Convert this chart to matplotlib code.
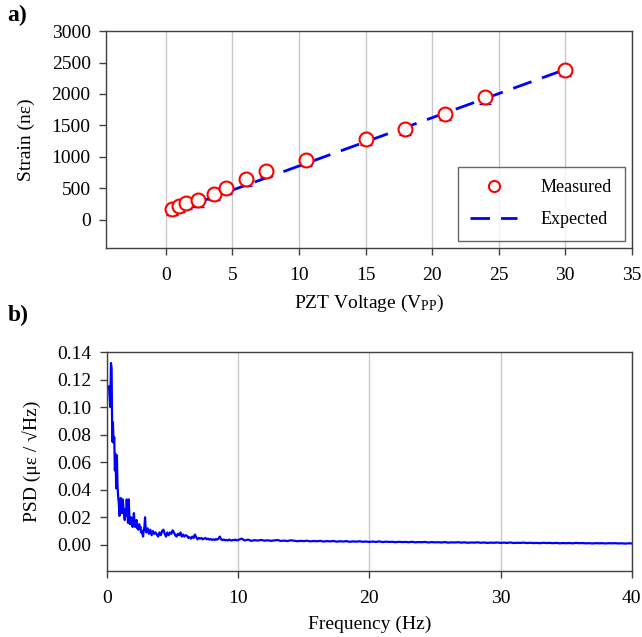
import numpy as np
import matplotlib
matplotlib.use('Agg')
import matplotlib.pyplot as plt
from matplotlib.ticker import FormatStrFormatter

plt.rcParams['font.family'] = ['Liberation Serif', 'DejaVu Serif']
plt.rcParams['mathtext.fontset'] = 'custom'
plt.rcParams['mathtext.rm'] = 'Liberation Serif'
plt.rcParams['mathtext.it'] = 'Liberation Serif:italic'

# --- panel a: strain vs PZT voltage ---
voltage = [0.5, 1.0, 1.5, 2.4, 3.6, 4.5, 6.0, 7.5, 10.5, 15.0, 18.0, 21.0, 24.0, 30.0]
strain_measured = [175, 215, 262, 305, 410, 500, 642, 776, 952, 1290, 1448, 1686, 1945, 2390]
strain_err_low = [100] * len(voltage)
expected_v = [0.2, 30.0]
expected_strain = [100, 2390]

# --- panel b: PSD ---
# 0.15 .. 3.00 Hz, step 0.05
psd_low = [0.115, 0.108, 0.100, 0.132, 0.128, 0.075, 0.089, 0.074, 0.078, 0.054,
           0.066, 0.041, 0.065, 0.043, 0.035, 0.030, 0.021, 0.028, 0.034, 0.026,
           0.023, 0.033, 0.027, 0.023, 0.018, 0.026, 0.021, 0.033, 0.024, 0.016,
           0.033, 0.022, 0.015, 0.019, 0.020, 0.016, 0.013, 0.018, 0.023, 0.016,
           0.013, 0.016, 0.018, 0.012, 0.014, 0.011, 0.015, 0.012, 0.013, 0.009,
           0.010, 0.008, 0.006, 0.011, 0.013, 0.020, 0.011, 0.009]
# 3.1 .. 10.0 Hz, step 0.1
psd_mid = [0.012, 0.008, 0.011, 0.007, 0.010, 0.008, 0.009, 0.0075, 0.006, 0.009,
           0.007, 0.010, 0.011, 0.008, 0.006, 0.009, 0.007, 0.009, 0.008, 0.0105,
           0.009, 0.007, 0.006, 0.008, 0.007, 0.009, 0.006, 0.0075, 0.006, 0.007,
           0.0065, 0.005, 0.0055, 0.0045, 0.006, 0.005, 0.0075, 0.0055, 0.004, 0.005,
           0.0045, 0.005, 0.004, 0.0045, 0.005, 0.004, 0.0045, 0.0038, 0.0042, 0.0036,
           0.004, 0.0035, 0.0042, 0.0038, 0.0045, 0.006, 0.004, 0.0035, 0.0038, 0.0033,
           0.0036, 0.0032, 0.0038, 0.0034, 0.0031, 0.0036, 0.0033, 0.0038, 0.0032, 0.0035]
# 10.25 .. 40.0 Hz, step 0.25
psd_high = [0.0045, 0.0032, 0.0038, 0.0029, 0.0034, 0.0031, 0.0036, 0.0030, 0.0033, 0.0029,
            0.0032, 0.0035, 0.0028, 0.0031, 0.0027, 0.0033, 0.0030, 0.0026, 0.0029, 0.0027,
            0.0030, 0.0025, 0.0028, 0.0026, 0.0029, 0.0024, 0.0027, 0.0025, 0.0028, 0.0023,
            0.0026, 0.0024, 0.0027, 0.0022, 0.0025, 0.0023, 0.0026, 0.0022, 0.0024, 0.0021,
            0.0024, 0.0021, 0.0025, 0.0020, 0.0023, 0.0021, 0.0022, 0.0019, 0.0022, 0.0020,
            0.0021, 0.0019, 0.0022, 0.0018, 0.0020, 0.0019, 0.0021, 0.0017, 0.0020, 0.0018,
            0.0019, 0.0017, 0.0020, 0.0016, 0.0018, 0.0017, 0.0019, 0.0016, 0.0018, 0.0015,
            0.0017, 0.0016, 0.0018, 0.0015, 0.0017, 0.0014, 0.0016, 0.0015, 0.0017, 0.0014,
            0.0016, 0.0014, 0.0017, 0.0013, 0.0015, 0.0014, 0.0016, 0.0013, 0.0015, 0.0013,
            0.0014, 0.0012, 0.0015, 0.0013, 0.0014, 0.0012, 0.0014, 0.0011, 0.0013, 0.0012,
            0.0013, 0.0011, 0.0014, 0.0012, 0.0013, 0.0011, 0.0012, 0.0010, 0.0012, 0.0011,
            0.0012, 0.0010, 0.0012, 0.0011, 0.0012, 0.0010, 0.0011, 0.0009, 0.0011, 0.0010]

freq = np.concatenate([0.15 + 0.05 * np.arange(len(psd_low)),
                       3.1 + 0.1 * np.arange(len(psd_mid)),
                       10.25 + 0.25 * np.arange(len(psd_high))])
psd = np.array(psd_low + psd_mid + psd_high)

spine_col = '#404040'
grid_col = '#c8c8c8'

fig = plt.figure(figsize=(6.42, 6.37), dpi=100)
ax1 = fig.add_axes([0.165, 0.611, 0.819, 0.340])
ax2 = fig.add_axes([0.1667, 0.1036, 0.8173, 0.3438])

for ax in (ax1, ax2):
    for s in ax.spines.values():
        s.set_color(spine_col)
        s.set_linewidth(1.0)
    ax.tick_params(direction='out', length=5, width=1, color=spine_col,
                   labelsize=14, pad=6)
    ax.tick_params(axis='x', pad=9)
    ax.grid(axis='x', color=grid_col, linewidth=1)
    ax.set_axisbelow(True)

# panel a
ax1.errorbar(voltage, strain_measured, yerr=[strain_err_low, [0] * len(voltage)],
             fmt='none', ecolor='blue', elinewidth=1, capsize=4, zorder=2)
ax1.plot(voltage, strain_measured, linestyle='none', marker='o', markersize=10,
         markerfacecolor='white', markeredgecolor='red', markeredgewidth=1.5,
         label='Measured', zorder=4)
ax1.plot(expected_v, expected_strain, color='blue', linewidth=2,
         dashes=(7, 4), label='Expected', zorder=3)
ax1.set_xlim(-4.5, 35)
ax1.set_ylim(-450, 3000)
ax1.set_xticks(range(0, 36, 5))
ax1.set_yticks(range(0, 3001, 500))
ax1.set_xlabel('PZT Voltage (V$_{\\mathregular{PP}}$)', fontsize=14, labelpad=6)
ax1.set_ylabel('Strain (n\u03b5)', fontsize=14, labelpad=12)
leg = ax1.legend(loc='lower right', fontsize=13, frameon=True, fancybox=False,
                 edgecolor=spine_col, handlelength=2.6, borderpad=0.7,
                 labelspacing=0.8, handletextpad=1.3, borderaxespad=0.4,
                 markerscale=0.8)
leg.get_frame().set_linewidth(1.0)

# panel b
ax2.plot(freq, psd, color='blue', linewidth=1.6)
ax2.set_xlim(0, 40)
ax2.set_ylim(-0.019, 0.14)
ax2.set_xticks(range(0, 41, 10))
ax2.set_yticks(np.arange(0, 0.141, 0.02))
ax2.yaxis.set_major_formatter(FormatStrFormatter('%.2f'))
ax2.set_xlabel('Frequency (Hz)', fontsize=14, labelpad=6)
ax2.set_ylabel('PSD (\u03bc\u03b5 / \u221aHz)', fontsize=14, labelpad=12)

fig.text(0.012, 0.975, 'a)', fontsize=17, fontweight='bold', va='center')
fig.text(0.012, 0.505, 'b)', fontsize=17, fontweight='bold', va='center')

fig.savefig('out.png', dpi=100)
